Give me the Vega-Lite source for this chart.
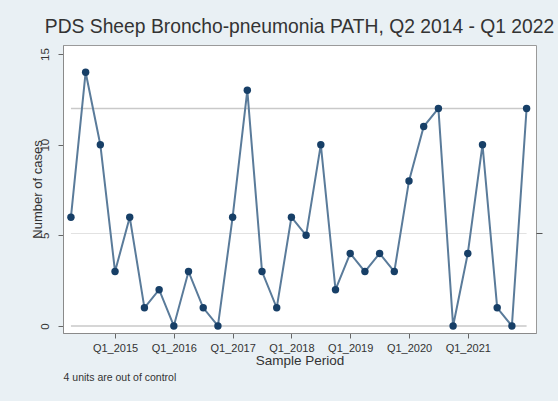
{
  "$schema": "https://vega.github.io/schema/vega-lite/v6.json",
  "autosize": {"type": "none"},
  "width": 473,
  "height": 288,
  "padding": {"left": 63, "top": 45, "right": 22, "bottom": 68},
  "background": "#e9f0f4",
  "title": {
    "text": "PDS Sheep Broncho-pneumonia PATH, Q2 2014 - Q1 2022",
    "font": "Liberation Sans",
    "fontSize": 19.3,
    "fontWeight": "normal",
    "color": "#333333",
    "anchor": "middle",
    "offset": 8
  },
  "datasets": {
    "series": [
      {"period": "Q2_2014", "i": 0, "cases": 6},
      {"period": "Q3_2014", "i": 1, "cases": 14},
      {"period": "Q4_2014", "i": 2, "cases": 10},
      {"period": "Q1_2015", "i": 3, "cases": 3},
      {"period": "Q2_2015", "i": 4, "cases": 6},
      {"period": "Q3_2015", "i": 5, "cases": 1},
      {"period": "Q4_2015", "i": 6, "cases": 2},
      {"period": "Q1_2016", "i": 7, "cases": 0},
      {"period": "Q2_2016", "i": 8, "cases": 3},
      {"period": "Q3_2016", "i": 9, "cases": 1},
      {"period": "Q4_2016", "i": 10, "cases": 0},
      {"period": "Q1_2017", "i": 11, "cases": 6},
      {"period": "Q2_2017", "i": 12, "cases": 13},
      {"period": "Q3_2017", "i": 13, "cases": 3},
      {"period": "Q4_2017", "i": 14, "cases": 1},
      {"period": "Q1_2018", "i": 15, "cases": 6},
      {"period": "Q2_2018", "i": 16, "cases": 5},
      {"period": "Q3_2018", "i": 17, "cases": 10},
      {"period": "Q4_2018", "i": 18, "cases": 2},
      {"period": "Q1_2019", "i": 19, "cases": 4},
      {"period": "Q2_2019", "i": 20, "cases": 3},
      {"period": "Q3_2019", "i": 21, "cases": 4},
      {"period": "Q4_2019", "i": 22, "cases": 3},
      {"period": "Q1_2020", "i": 23, "cases": 8},
      {"period": "Q2_2020", "i": 24, "cases": 11},
      {"period": "Q3_2020", "i": 25, "cases": 12},
      {"period": "Q4_2020", "i": 26, "cases": 0},
      {"period": "Q1_2021", "i": 27, "cases": 4},
      {"period": "Q2_2021", "i": 28, "cases": 10},
      {"period": "Q3_2021", "i": 29, "cases": 1},
      {"period": "Q4_2021", "i": 30, "cases": 0},
      {"period": "Q1_2022", "i": 31, "cases": 12}
    ],
    "limits": [
      {"line": "UCL", "value": 12, "start": 0, "end": 31},
      {"line": "LCL", "value": 0, "start": 0, "end": 31}
    ],
    "center": [
      {"line": "CL", "value": 5.1, "start": 0, "end": 31}
    ],
    "note": [
      {"text": "4 units are out of control", "x": -0.5, "y": -2.9}
    ]
  },
  "config": {
    "view": {"fill": "white", "stroke": "#9a9a9a", "strokeWidth": 1},
    "axis": {
      "labelFont": "Liberation Sans",
      "titleFont": "Liberation Sans",
      "labelColor": "#333333",
      "titleColor": "#333333",
      "domainColor": "#8a8a8a",
      "tickColor": "#666666",
      "grid": false,
      "titleFontWeight": "normal"
    }
  },
  "resolve": {"axis": {"y": "independent"}},
  "layer": [
    {
      "data": {"name": "center"},
      "mark": {"type": "rule", "color": "#e2e2e2", "strokeWidth": 1},
      "encoding": {
        "x": {
          "field": "start", "type": "quantitative",
          "scale": {"domain": [-0.54, 31.64], "nice": false, "zero": false},
          "axis": {
            "values": [3, 7, 11, 15, 19, 23, 27],
            "labelExpr": "'Q1_' + (2015 + (datum.value - 3) / 4)",
            "title": "Sample Period",
            "titleFontSize": 13.5,
            "titlePadding": 0,
            "labelFontSize": 11,
            "labelPadding": 4,
            "tickSize": 5
          }
        },
        "x2": {"field": "end"},
        "y": {
          "field": "value", "type": "quantitative",
          "scale": {"domain": [-0.39, 15.5], "nice": false, "zero": false},
          "axis": {"orient": "right", "values": [5.1], "labels": false, "title": null, "domain": false, "ticks": true, "tickSize": 6, "tickColor": "#555555"}
        }
      }
    },
    {
      "data": {"name": "limits"},
      "mark": {"type": "rule", "color": "#c9c9c9", "strokeWidth": 1.5},
      "encoding": {
        "x": {"field": "start", "type": "quantitative"},
        "x2": {"field": "end"},
        "y": {"field": "value", "type": "quantitative", "axis": null}
      }
    },
    {
      "data": {"name": "series"},
      "mark": {"type": "line", "color": "#5a7b9a", "strokeWidth": 2},
      "encoding": {
        "x": {"field": "i", "type": "quantitative"},
        "y": {
          "field": "cases", "type": "quantitative",
          "axis": {
            "orient": "left",
            "values": [0, 5, 10, 15],
            "title": "Number of cases",
            "titleFontSize": 13,
            "titleAngle": 270,
            "titleX": -26,
            "titleY": 144,
            "titleAlign": "center",
            "titleBaseline": "middle",
            "labelAngle": 270,
            "labelAlign": "center",
            "labelBaseline": "bottom",
            "labelFontSize": 11.5,
            "labelPadding": 8,
            "tickSize": 5
          }
        }
      }
    },
    {
      "data": {"name": "series"},
      "mark": {"type": "point", "filled": true, "color": "#173f67", "opacity": 1, "size": 55},
      "encoding": {
        "x": {"field": "i", "type": "quantitative"},
        "y": {"field": "cases", "type": "quantitative", "axis": null}
      }
    },
    {
      "data": {"name": "note"},
      "mark": {"type": "text", "align": "left", "baseline": "middle", "font": "Liberation Sans", "fontSize": 10.5, "color": "#333333", "clip": false},
      "encoding": {
        "x": {"field": "x", "type": "quantitative"},
        "y": {"field": "y", "type": "quantitative", "axis": null},
        "text": {"field": "text"}
      }
    }
  ]
}
